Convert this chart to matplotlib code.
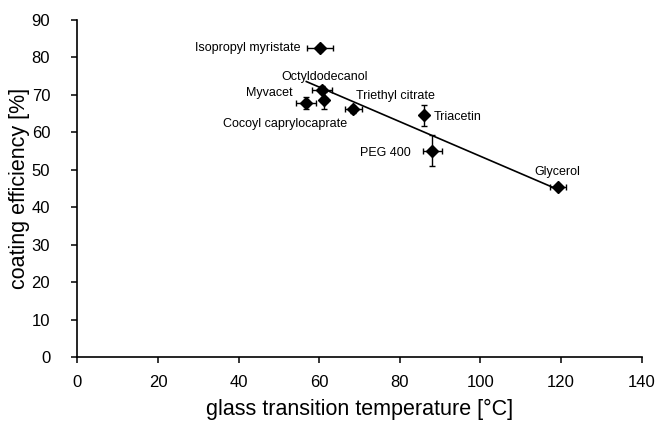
import matplotlib.pyplot as plt
import numpy as np

plt.rcParams['font.family'] = ['Liberation Sans', 'DejaVu Sans']

names = ['Isopropyl myristate', 'Octyldodecanol', 'Myvacet', 'Cocoyl caprylocaprate',
         'Triethyl citrate', 'Triacetin', 'PEG 400', 'Glycerol']
tg = [60.2, 60.6, 56.8, 61.2, 68.5, 86.1, 88.1, 119.2]
tg_err = [3.3, 2.5, 2.5, 0.8, 2.2, 0.5, 2.4, 1.9]
eff = [82.5, 71.4, 67.8, 68.5, 66.1, 64.5, 55.1, 45.3]
eff_err = [0.8, 1.0, 1.5, 2.3, 1.0, 2.7, 4.2, 0.5]

# linear trend (slope, intercept)
trend_slope = -0.462
trend_intercept = 99.8

# label anchor positions and alignment
label_x = [55.3, 50.5, 53.5, 36.1, 69.1, 88.3, 82.6, 113.4]
label_y = [82.5, 74.9, 70.6, 62.2, 69.7, 64.0, 54.4, 49.5]
label_ha = ['right', 'left', 'right', 'left', 'left', 'left', 'right', 'left']

fig = plt.figure(figsize=(6.7, 4.25), dpi=100)
ax = fig.add_axes([0.1154, 0.16, 0.8424, 0.793])

ax.errorbar(tg, eff, xerr=tg_err, yerr=eff_err, fmt='D', color='black',
            ms=6.2, elinewidth=1.0, capsize=2.2, capthick=1.0)

xs = np.array([min(tg), max(tg)])
ax.plot(xs, trend_slope * xs + trend_intercept, color='black', lw=1.2)

for n, lx, ly, ha in zip(names, label_x, label_y, label_ha):
    ax.text(lx, ly, n, ha=ha, va='center', fontsize=9)

ax.set_xlim(0, 140)
ax.set_ylim(0, 90)
ax.set_xticks(np.arange(0, 141, 20))
ax.set_yticks(np.arange(0, 91, 10))

for s in ['top', 'right']:
    ax.spines[s].set_visible(False)
for s in ['left', 'bottom']:
    ax.spines[s].set_linewidth(1.2)

ax.tick_params(axis='both', direction='out', length=4, width=1.1, labelsize=12)
ax.tick_params(axis='y', pad=15.5)
ax.tick_params(axis='x', pad=9)

ax.set_xlabel('glass transition temperature [°C]', fontsize=15.5)
ax.set_ylabel('coating efficiency [%]', fontsize=15.5)
ax.xaxis.set_label_coords(0.5, -0.125)
ax.yaxis.set_label_coords(-0.084, 0.5)

fig.savefig('out.png', dpi=100)
